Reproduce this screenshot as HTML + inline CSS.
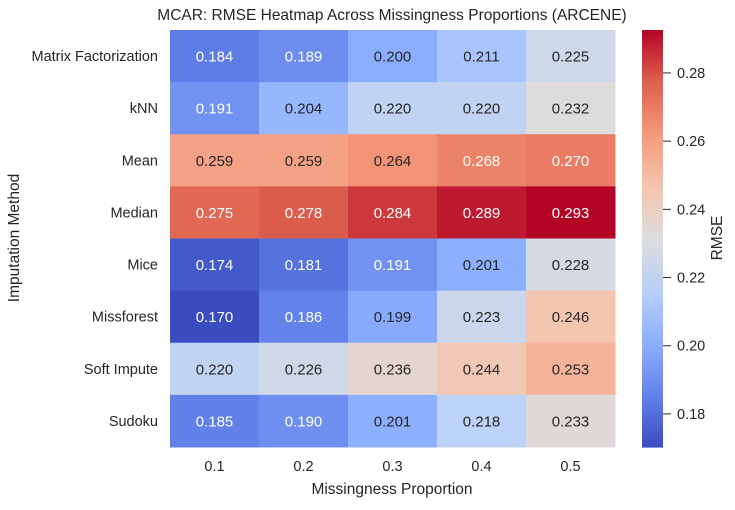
<!DOCTYPE html>
<html><head><meta charset="utf-8"><style>
body{margin:0;background:#fff;font-family:"Liberation Sans","DejaVu Sans",sans-serif}
svg text{font-family:"Liberation Sans","DejaVu Sans",sans-serif}
</style></head><body>
<svg id="c" width="735" height="505" xmlns="http://www.w3.org/2000/svg">
<text x="392" y="20" text-anchor="middle" font-size="15.5" fill="#262626">MCAR: RMSE Heatmap Across Missingness Proportions (ARCENE)</text>
<text x="392" y="494" text-anchor="middle" font-size="15.5" fill="#262626">Missingness Proportion</text>
<text transform="translate(19,238) rotate(-90)" text-anchor="middle" font-size="15.5" fill="#262626">Imputation Method</text>
<text transform="translate(722,238) rotate(-90)" text-anchor="middle" font-size="15.5" fill="#262626">RMSE</text>
<g id="cells"></g><g id="cb"></g>
</svg>
<script>
const methods=["Matrix Factorization","kNN","Mean","Median","Mice","Missforest","Soft Impute","Sudoku"];
const proportions=["0.1","0.2","0.3","0.4","0.5"];
const rmse=[
[0.184,0.189,0.200,0.211,0.225],
[0.191,0.204,0.220,0.220,0.232],
[0.259,0.259,0.264,0.268,0.270],
[0.275,0.278,0.284,0.289,0.293],
[0.174,0.181,0.191,0.201,0.228],
[0.170,0.186,0.199,0.223,0.246],
[0.220,0.226,0.236,0.244,0.253],
[0.185,0.190,0.201,0.218,0.233]];
const cbTicks=[0.18,0.20,0.22,0.24,0.26,0.28];
const NS="http://www.w3.org/2000/svg";
const X0=170,X1=615,Y0=30,Y1=447;
const cw=(X1-X0)/proportions.length, rh=(Y1-Y0)/methods.length;
const vmin=0.1703,vmax=0.2926;
const cm=[[59,76,192],[98,130,234],[141,176,254],[184,208,249],[221,221,221],[245,196,173],[244,154,123],[222,96,77],[180,4,38]];
function col(v){let t=Math.max(0,Math.min(1,(v-vmin)/(vmax-vmin)))*(cm.length-1);let i=Math.min(Math.floor(t),cm.length-2),f=t-i;
return cm[i].map((c,k)=>Math.round(c+(cm[i+1][k]-c)*f));}
function lum(c){const l=c.map(x=>{x/=255;return x<=0.03928?x/12.92:Math.pow((x+0.055)/1.055,2.4)});return 0.2126*l[0]+0.7152*l[1]+0.0722*l[2];}
function el(t,a,p){const e=document.createElementNS(NS,t);for(const k in a)e.setAttribute(k,a[k]);p.appendChild(e);return e;}
const g=document.getElementById('cells');
methods.forEach((m,r)=>{
 proportions.forEach((p,c)=>{
  const v=rmse[r][c],rgb=col(v);
  const rc=el('rect',{x:X0+c*cw,y:Y0+r*rh,width:cw+0.5,height:rh+0.5,fill:`rgb(${rgb})`},g);
  
  
  const t=el('text',{x:X0+(c+0.5)*cw,y:Y0+(r+0.5)*rh+5.5,'text-anchor':'middle','font-size':'15',fill:lum(rgb)>0.408?'#262626':'#ffffff'},g);
  t.textContent=v.toFixed(3);
  
  
 });
 const yl=el('text',{x:158,y:Y0+(r+0.5)*rh+5,'text-anchor':'end','font-size':'14.5',fill:'#262626'},g);
 yl.textContent=m;
 
 
});
proportions.forEach((p,c)=>{
 const xl=el('text',{x:X0+(c+0.5)*cw,y:471,'text-anchor':'middle','font-size':'14.5',fill:'#262626'},g);
 xl.textContent=p;
 
 
});
const cb=document.getElementById('cb');
const CX=642,CW=21,N=120;
const ys=v=>Y0+(vmax-v)/(vmax-vmin)*(Y1-Y0);
for(let i=0;i<N;i++){
 const v0=vmax-(vmax-vmin)*i/N, h=(Y1-Y0)/N;
 const r=el('rect',{x:CX,y:Y0+i*h,width:CW,height:h+0.6,fill:`rgb(${col(v0-(vmax-vmin)/N/2)})`},cb);
 
 
}
cbTicks.forEach(v=>{
 const y=ys(v);
 const l=el('line',{x1:CX+CW,x2:CX+CW+8,y1:y,y2:y,stroke:'#262626','stroke-width':1},cb);
 
 
 const t=el('text',{x:CX+CW+14,y:y+5,'font-size':'14.5',fill:'#262626'},cb);
 t.textContent=v.toFixed(2);
 
 
});
</script>
</body></html>
